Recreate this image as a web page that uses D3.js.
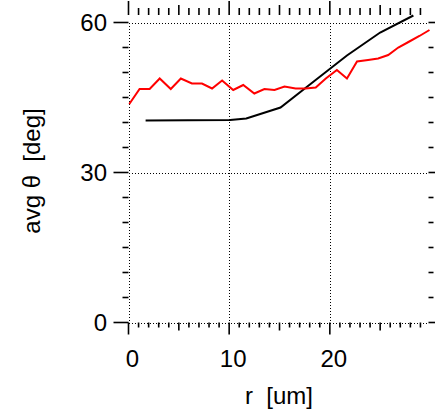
<!DOCTYPE html>
<html>
<head>
<meta charset="utf-8">
<script src="https://cdn.jsdelivr.net/npm/d3@7"></script>
<style>
  html, body { margin: 0; padding: 0; background: #fff; }
  svg { display: block; }
  text { font-family: "Liberation Sans", Arial, sans-serif; fill: #000; white-space: pre; }
</style>
</head>
<body>
<svg id="chart" width="435" height="412"></svg>
<script>
// Average angle profiles against radius
const redR = [0.08, 1.1, 2.1, 3.1, 4.2, 5.2, 6.3, 7.3, 8.3, 9.3, 10.4, 11.4, 12.5, 13.5, 14.5,
              15.5, 16.6, 17.6, 18.6, 19.6, 20.7, 21.7, 22.7, 23.8, 24.8, 25.8, 26.8, 27.9, 28.9, 29.9];
const redTheta = [43.7, 46.7, 46.7, 48.8, 46.7, 48.8, 47.8, 47.8, 46.8, 48.4, 46.5, 47.5, 45.8, 46.7, 46.5,
                  47.2, 46.8, 46.8, 47.0, 48.8, 50.5, 48.8, 52.2, 52.5, 52.8, 53.5, 55.0, 56.2, 57.3, 58.5];
const blackR = [1.7, 10.1, 11.7, 15.1, 18.4, 21.7, 25.0, 28.3];
const blackTheta = [40.4, 40.5, 40.8, 43.0, 48.2, 53.4, 58.0, 61.4];

const xMajorTicks = [0, 10, 20];
const yMajorTicks = [0, 30, 60];
const xLabel = "r  [um]";
const yLabel = "avg \u03b8  [deg]";

const svg = d3.select("#chart");
const x = d3.scaleLinear().domain([0, 30]).range([128.5, 430.5]);
const y = d3.scaleLinear().domain([0, 60]).range([322.5, 22.5]);

const xMinor = d3.range(0, 30, 1);
const yMinor = d3.range(0, 61, 5);

// dotted grid
const grid = svg.append("g").attr("stroke", "#000").attr("stroke-width", 1)
  .attr("stroke-dasharray", "1,2").attr("shape-rendering", "crispEdges");
grid.selectAll("line.v").data(xMajorTicks).join("line")
  .attr("x1", d => Math.round(x(d)) + 0.5).attr("x2", d => Math.round(x(d)) + 0.5)
  .attr("y1", y(60)).attr("y2", y(0));
grid.selectAll("line.h").data(yMajorTicks).join("line")
  .attr("y1", d => Math.round(y(d)) + 0.5).attr("y2", d => Math.round(y(d)) + 0.5)
  .attr("x1", x(0)).attr("x2", 428);

// tick marks
const ticks = svg.append("g").attr("stroke", "#000").attr("stroke-width", 1.6);
const xLen = d => d % 10 === 0 ? 12 : (d % 5 === 0 ? 8 : 5);
const topLen = d => d % 10 === 0 ? 14 : (d % 5 === 0 ? 10 : 7);
ticks.selectAll("line.b").data(xMinor).join("line")
  .attr("x1", d => x(d)).attr("x2", d => x(d))
  .attr("y1", y(0)).attr("y2", d => y(0) + xLen(d));
ticks.selectAll("line.t").data(xMinor).join("line")
  .attr("x1", d => x(d)).attr("x2", d => x(d))
  .attr("y1", 15).attr("y2", d => 15 - topLen(d));
ticks.selectAll("line.l").data(yMinor).join("line")
  .attr("y1", d => y(d)).attr("y2", d => y(d))
  .attr("x1", x(0)).attr("x2", d => x(0) - (d % 30 === 0 ? 15 : 6));
ticks.selectAll("line.r").data(yMinor).join("line")
  .attr("y1", d => y(d)).attr("y2", d => y(d))
  .attr("x1", 428.5).attr("x2", d => 428.5 + (d % 30 === 0 ? 7 : 5));

// tick labels
svg.append("g").selectAll("text").data(yMajorTicks).join("text")
  .attr("x", 107).attr("y", d => y(d)).attr("dy", "0.36em")
  .attr("text-anchor", "end").attr("font-size", 24).text(d => d);
svg.append("g").selectAll("text").data(xMajorTicks).join("text")
  .attr("x", d => x(d) + 4).attr("y", 367)
  .attr("text-anchor", "middle").attr("font-size", 24).text(d => d);

// axis titles
svg.append("text").attr("x", 279).attr("y", 404).attr("text-anchor", "middle")
  .attr("font-size", 24).attr("xml:space", "preserve").text(xLabel);
svg.append("text").attr("transform", "translate(40,171) rotate(-90)")
  .attr("text-anchor", "middle").attr("font-size", 24).attr("xml:space", "preserve").text(yLabel);

// series
const line = d3.line().x(d => x(d[0])).y(d => y(d[1]));
svg.append("path").datum(d3.zip(blackR, blackTheta))
  .attr("d", line).attr("fill", "none").attr("stroke", "#000").attr("stroke-width", 2);
svg.append("path").datum(d3.zip(redR, redTheta))
  .attr("d", line).attr("fill", "none").attr("stroke", "#ff0000").attr("stroke-width", 2);
</script>
</body>
</html>
